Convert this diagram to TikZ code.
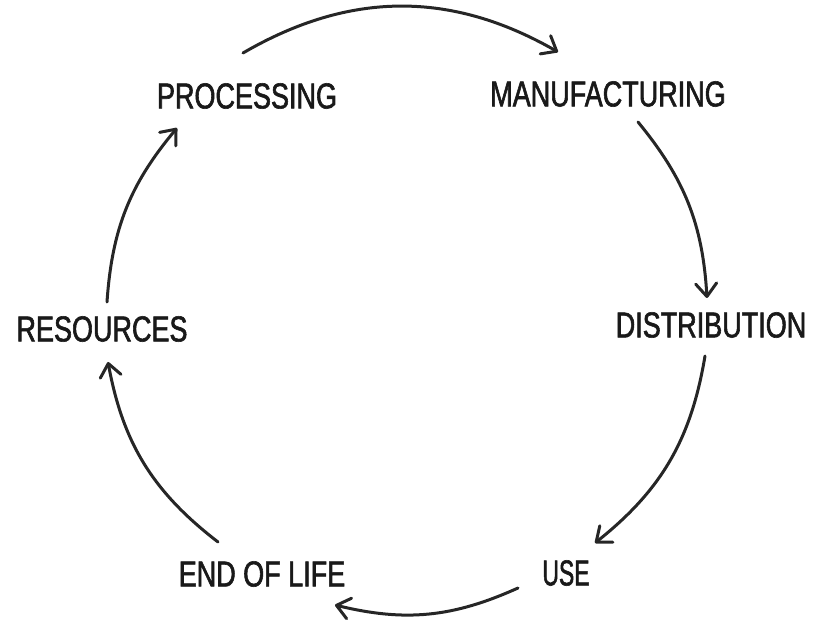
\documentclass[tikz,border=0pt]{standalone}
\usepackage{fontspec}
\setmainfont{Liberation Sans}[FakeStretch=0.75, FakeBold=1.6]
\usetikzlibrary{arrows.meta}

\begin{document}
\begin{tikzpicture} [x = 1pt, y = 1pt,
	stage/.style = {font = \fontsize{36}{40}\selectfont, text = black!90, inner sep = 0pt},
	flow/.style = {line width = 3pt, line cap = round, black!85, -{Straight Barb[length = 13pt, width = 21pt, round]}}]
	\useasboundingbox (0,0) rectangle (825,619);
	% stages of the life cycle
	\node [stage] (proc) at (247,523) {PROCESSING};
	\node [stage] (manu) at (608,525) {MANUFACTURING};
	\node [stage] (dist) at (711,294) {DISTRIBUTION};
	\node [stage, xscale = 0.85] (use) at (566,46) {USE};
	\node [stage] (eol) at (262,45) {END OF LIFE};
	\node [stage] (res) at (102,290) {RESOURCES};
	% arrows round the circle
	\draw [flow] ([shift = {(-4,43)}]proc.center) to [bend left = 30] ([shift = {(-50,42)}]manu.center);
	\draw [flow] ([shift = {(30,-28)}]manu.center) to [bend left = 18] ([shift = {(-4,27)}]dist.center);
	\draw [flow] ([shift = {(-6,-31)}]dist.center) to [bend left = 21] ([shift = {(29,30)}]use.center);
	\draw [flow] ([shift = {(-48,-15)}]use.center) to [bend left = 19] ([shift = {(73,-31)}]eol.center);
	\draw [flow] ([shift = {(-44,32)}]eol.center) to [bend left = 21] ([shift = {(6,-33)}]res.center);
	\draw [flow] ([shift = {(5,27)}]res.center) to [bend left = 18] ([shift = {(-70,-32)}]proc.center);
	%\draw (412,310) circle (300);
\end{tikzpicture}
\end{document}
